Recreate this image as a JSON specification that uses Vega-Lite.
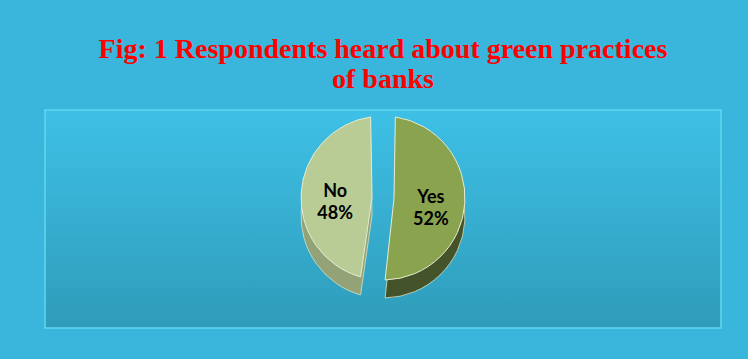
{
  "$schema": "https://vega.github.io/schema/vega-lite/v6.json",
  "width": 676,
  "height": 218,
  "autosize": {"type": "none"},
  "padding": {"left": 45, "top": 110, "right": 27, "bottom": 31},
  "background": "#3ab6dc",
  "config": {"view": {"stroke": null}},
  "title": {
    "text": ["Fig: 1 Respondents heard about green practices", "of banks"],
    "font": "Liberation Serif",
    "fontSize": 28,
    "fontWeight": "bold",
    "color": "#ff0000",
    "anchor": "middle",
    "lineHeight": 30,
    "offset": 15
  },
  "data": {
    "values": [
      {"answer": "Yes", "pct": 52, "label": ["Yes", "52%"]},
      {"answer": "No", "pct": 48, "label": ["No", "48%"]}
    ]
  },
  "layer": [
    {
      "data": {"values": [{}]},
      "mark": {
        "type": "rect",
        "stroke": "#62d6ef",
        "strokeWidth": 1.5,
        "color": {
          "gradient": "linear",
          "x1": 0, "y1": 0, "x2": 0, "y2": 1,
          "stops": [
            {"offset": 0, "color": "#3ec0e6"},
            {"offset": 1, "color": "#2f9cba"}
          ]
        }
      },
      "encoding": {}
    },
    {
      "mark": {"type": "arc", "outerRadius": 82, "innerRadius": 11, "padAngle": 0.3, "yOffset": -3, "stroke": "#d8e2c2", "strokeWidth": 0.8},
      "encoding": {
        "theta": {"field": "pct", "type": "quantitative", "stack": true},
        "order": {"field": "answer", "sort": "descending"},
        "color": {"field": "answer", "type": "nominal", "scale": {"domain": ["Yes", "No"], "range": ["#45532a", "#93a277"]}, "legend": null}
      }
    },
    {
      "mark": {"type": "arc", "outerRadius": 82, "innerRadius": 11, "padAngle": 0.3, "yOffset": -21, "stroke": "#e4ecd2", "strokeWidth": 1},
      "encoding": {
        "theta": {"field": "pct", "type": "quantitative", "stack": true},
        "order": {"field": "answer", "sort": "descending"},
        "color": {"field": "answer", "type": "nominal", "scale": {"domain": ["Yes", "No"], "range": ["#8aa34f", "#b9cc95"]}, "legend": null}
      }
    },
    {
      "mark": {"type": "text", "radius": 48, "yOffset": -24, "font": "Lato", "fontSize": 18, "fontWeight": "bold", "color": "#000000", "lineHeight": 22},
      "encoding": {
        "theta": {"field": "pct", "type": "quantitative", "stack": true},
        "order": {"field": "answer", "sort": "descending"},
        "text": {"field": "label", "type": "nominal"}
      }
    }
  ],
  "resolve": {"scale": {"color": "independent"}}
}
